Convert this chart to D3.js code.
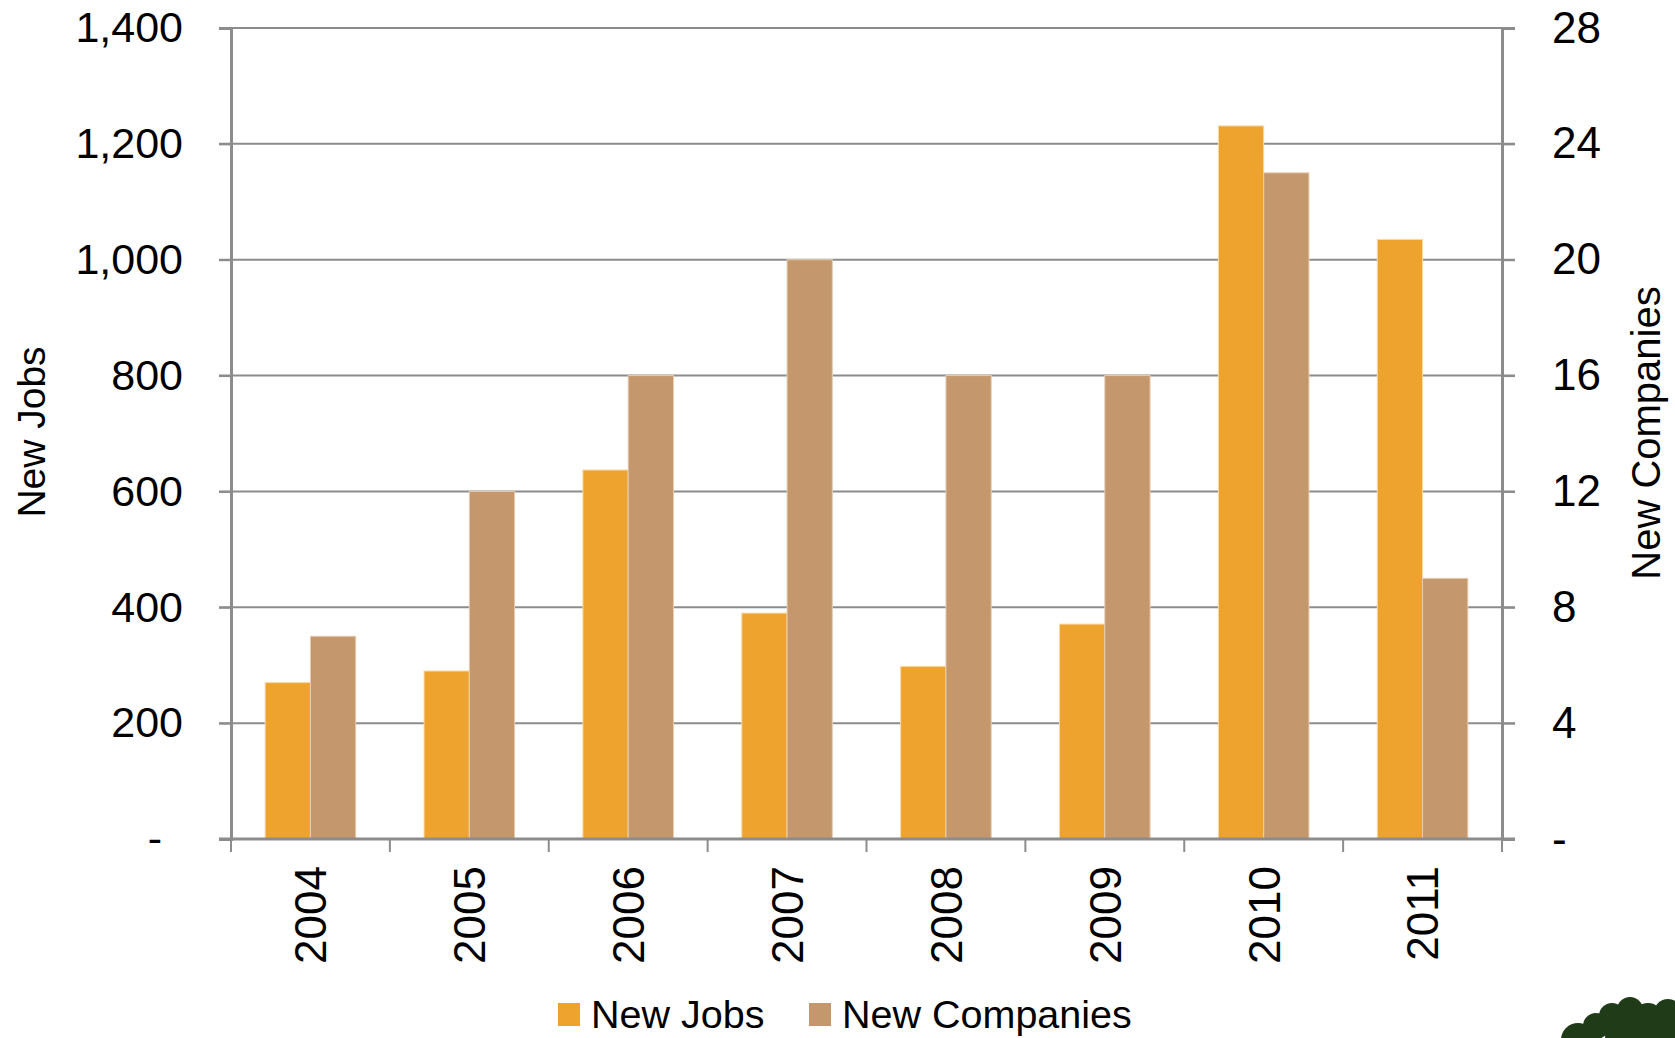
<!DOCTYPE html>
<html><head><meta charset="utf-8">
<script src="https://cdn.jsdelivr.net/npm/d3@7"></script>
<style>
html,body{margin:0;padding:0;background:#fff;}
text{font-family:"Liberation Sans",Arial,sans-serif;fill:#000;}
</style></head>
<body>
<svg id="chart" width="1675" height="1038"></svg>
<script>
const years = ["2004","2005","2006","2007","2008","2009","2010","2011"];
const newJobs = [270, 290, 637, 390, 298, 371, 1231, 1035];
const newCompanies = [7, 12, 16, 20, 16, 16, 23, 9];
const jobsTicks = [0, 200, 400, 600, 800, 1000, 1200, 1400];
const compTicks = [0, 4, 8, 12, 16, 20, 24, 28];
const seriesNames = ["New Jobs", "New Companies"];
const colors = ["#EFA32F", "#C4976C"];
const strokes = ["#F8D9A6", "#E6CDB2"];

const svg = d3.select("#chart");
const L = 231, R = 1502, T = 28, B = 839;
const gray = "#8C8C8C";
const FONT = "Liberation Sans, Arial, sans-serif";

const x0 = d3.scaleBand().domain(years).range([L, R]).paddingInner(0.43).paddingOuter(0.215);
const x1 = d3.scaleBand().domain([0,1]).range([0, x0.bandwidth()]);
const xTicks = d3.scaleBand().domain(years).range([L, R]);
const yL = d3.scaleLinear().domain([0, 1400]).range([B, T]);
const yR = d3.scaleLinear().domain([0, 28]).range([B, T]);

// gridlines
svg.append("g").selectAll("line").data(jobsTicks.filter(d => d > 0)).join("line")
  .attr("x1", L - 12).attr("x2", R + 13)
  .attr("y1", d => yL(d)).attr("y2", d => yL(d))
  .attr("stroke", gray).attr("stroke-width", 2);

// bars
const g = svg.append("g");
years.forEach((yr, i) => {
  [newJobs[i], newCompanies[i]].forEach((v, s) => {
    const sc = s === 0 ? yL : yR;
    g.append("rect")
      .attr("x", x0(yr) + x1(s))
      .attr("y", sc(v))
      .attr("width", x1.bandwidth())
      .attr("height", B - sc(v))
      .attr("fill", colors[s])
      .attr("stroke", strokes[s]).attr("stroke-width", 1);
  });
});

// left axis
const fmtL = d => d === 0 ? "-" : d3.format(",")(d);
const axL = svg.append("g").attr("transform", `translate(${L},0)`)
  .call(d3.axisLeft(yL).tickValues(jobsTicks).tickFormat(fmtL).tickSizeOuter(0).tickSize(12).tickPadding(36));
axL.select(".domain").attr("stroke", gray).attr("stroke-width", 3);
axL.selectAll(".tick line").attr("stroke", gray).attr("stroke-width", 2);
axL.selectAll(".tick text").attr("font-size", 43).attr("font-family", FONT)
  .attr("dx", d => d === 0 ? -21 : 0);

// right axis
const fmtR = d => d === 0 ? "-" : String(d);
const axR = svg.append("g").attr("transform", `translate(${R},0)`)
  .call(d3.axisRight(yR).tickValues(compTicks).tickFormat(fmtR).tickSizeOuter(0).tickSize(13).tickPadding(37));
axR.select(".domain").attr("stroke", gray).attr("stroke-width", 3);
axR.selectAll(".tick line").attr("stroke", gray).attr("stroke-width", 2);
axR.selectAll(".tick text").attr("font-size", 44).attr("font-family", FONT);

// bottom axis
const axB = svg.append("g").attr("transform", `translate(0,${B})`)
  .call(d3.axisBottom(xTicks).tickSize(0).tickFormat(d => d));
axB.select(".domain").remove();
axB.selectAll(".tick text")
  .attr("font-size", 44).attr("font-family", FONT)
  .attr("transform", "rotate(-90)")
  .attr("text-anchor", "end")
  .attr("x", -27).attr("y", 0).attr("dy", "0.36em");
svg.append("line").attr("x1", L - 12).attr("x2", R + 13).attr("y1", B).attr("y2", B)
  .attr("stroke", gray).attr("stroke-width", 3);
svg.append("g").selectAll("line").data(years.concat(["end"])).join("line")
  .attr("x1", (d, i) => L + i * xTicks.step()).attr("x2", (d, i) => L + i * xTicks.step())
  .attr("y1", B).attr("y2", B + 13)
  .attr("stroke", gray).attr("stroke-width", 2);

// axis titles
svg.append("text").attr("transform", "translate(45,432) rotate(-90)")
  .attr("text-anchor", "middle").attr("font-size", 39).text("New Jobs");
svg.append("text").attr("transform", "translate(1660,433) rotate(-90)")
  .attr("text-anchor", "middle").attr("font-size", 40).text("New Companies");

// legend
const lg = svg.append("g");
const legX = [558, 809];
seriesNames.forEach((n, i) => {
  lg.append("rect").attr("x", legX[i]).attr("y", 1003).attr("width", 22).attr("height", 23).attr("fill", colors[i]);
  lg.append("text").attr("x", legX[i] + 33).attr("y", 1028).attr("font-size", 39.5).text(n);
});

// tree decoration (bottom-right corner)
const tree = svg.append("g").attr("fill", "#1F3B18");
[[1578,1040,17],[1596,1026,13],[1612,1016,13],[1630,1010,13],[1648,1018,15],[1668,1013,14],[1660,1035,20],[1625,1035,20]].forEach(c => {
  tree.append("circle").attr("cx", c[0]).attr("cy", c[1]).attr("r", c[2]);
});
</script>
</body></html>
